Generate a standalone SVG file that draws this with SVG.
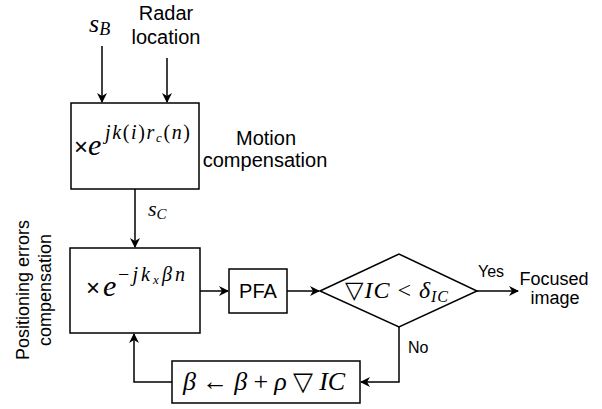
<svg xmlns="http://www.w3.org/2000/svg" width="602" height="409" viewBox="0 0 602 409">
<style>
.box{fill:#fff;stroke:#000;stroke-width:1.5}
.ln{fill:none;stroke:#000;stroke-width:1.5}
.t{font-family:"Liberation Sans",Arial,sans-serif;fill:#000}
.m{font-family:"Liberation Serif","DejaVu Serif",serif;fill:#000}
.x{font-family:"Liberation Sans",Arial,sans-serif;fill:#000;font-size:24px}
.i{font-style:italic}
</style>
<defs>
<marker id="ar" viewBox="0 0 10 10" refX="9" refY="5" markerWidth="10" markerHeight="10" markerUnits="userSpaceOnUse" orient="auto">
<path d="M0,0 L10,5 L0,10 L3,5 Z" fill="#000"/>
</marker>
</defs>
<rect width="602" height="409" fill="#fff"/>
<g id="connectors">
<path class="ln" d="M102,46 V102" marker-end="url(#ar)"/>
<path class="ln" d="M167,58 V102" marker-end="url(#ar)"/>
<path class="ln" d="M135,189 V247" marker-end="url(#ar)"/>
<path class="ln" d="M200,291 H228" marker-end="url(#ar)"/>
<path class="ln" d="M287,291 H319" marker-end="url(#ar)"/>
<path class="ln" d="M477,291 H518" marker-end="url(#ar)"/>
<path class="ln" d="M399,327 V382 H361" marker-end="url(#ar)"/>
<path class="ln" d="M172,382 H134 V334" marker-end="url(#ar)"/>
</g>
<g id="sB"><text class="m i" x="89" y="32" font-size="26">s<tspan font-size="18" dy="3">B</tspan></text></g>
<g id="radar"><text class="t" font-size="20" text-anchor="middle"><tspan x="166" y="20">Radar</tspan><tspan x="166" y="44">location</tspan></text></g>
<g id="motion">
<rect class="box" x="71" y="103" width="128" height="86"/>
<text class="x" x="74" y="155">×</text>
<text class="m i" x="88" y="155" font-size="30">e</text>
<text class="m" x="105" y="139" font-size="20" textLength="85" lengthAdjust="spacing"><tspan class="i">jk</tspan>(<tspan class="i">i</tspan>)<tspan class="i">r</tspan><tspan font-size="13" class="i" dy="3">c</tspan><tspan dy="-3">(</tspan><tspan class="i">n</tspan>)</text>
</g>
<g id="motion-label"><text class="t" font-size="20" text-anchor="middle"><tspan x="266" y="145">Motion</tspan><tspan x="265" y="167">compensation</tspan></text></g>
<g id="sC"><text class="m i" x="148" y="216" font-size="22">s<tspan font-size="15" dy="3">C</tspan></text></g>
<g id="poscomp">
<rect class="box" x="70" y="248" width="130" height="85"/>
<text class="x" x="86" y="296">×</text>
<text class="m i" x="103" y="296" font-size="30">e</text>
<text class="m" x="118" y="281" font-size="20" textLength="67" lengthAdjust="spacing">−<tspan class="i">jk</tspan><tspan font-size="13" class="i" dy="3">x</tspan><tspan class="i" dy="-3">βn</tspan></text>
</g>
<g id="pos-label"><text class="t" font-size="18" text-anchor="middle" transform="translate(0,290) rotate(-90)"><tspan x="0" y="29">Positioning errors</tspan><tspan x="0" y="51">compensation</tspan></text></g>
<g id="pfa">
<rect class="box" x="229" y="269" width="58" height="44"/>
<text class="t" x="258" y="298" font-size="20" text-anchor="middle">PFA</text>
</g>
<g id="decision">
<path class="box" d="M320,291 L399,254 L477,291 L399,327 Z"/>
<text class="m" x="345" y="298" font-size="24" textLength="103" lengthAdjust="spacing">▽<tspan class="i">IC</tspan> &lt; <tspan class="i">δ</tspan><tspan class="i" font-size="16" dy="4">IC</tspan></text>
</g>
<g id="yes"><text class="t" x="478" y="277" font-size="16">Yes</text></g>
<g id="focused"><text class="t" font-size="18" text-anchor="middle"><tspan x="554" y="285">Focused</tspan><tspan x="555" y="304">image</tspan></text></g>
<g id="no"><text class="t" x="408" y="353" font-size="16">No</text></g>
<g id="update">
<rect class="box" x="172" y="361" width="188" height="42"/>
<text class="m" x="183" y="390" font-size="26" textLength="162" lengthAdjust="spacing"><tspan class="i">β</tspan> ← <tspan class="i">β</tspan> + <tspan class="i">ρ</tspan> ▽ <tspan class="i">IC</tspan></text>
</g>
</svg>
